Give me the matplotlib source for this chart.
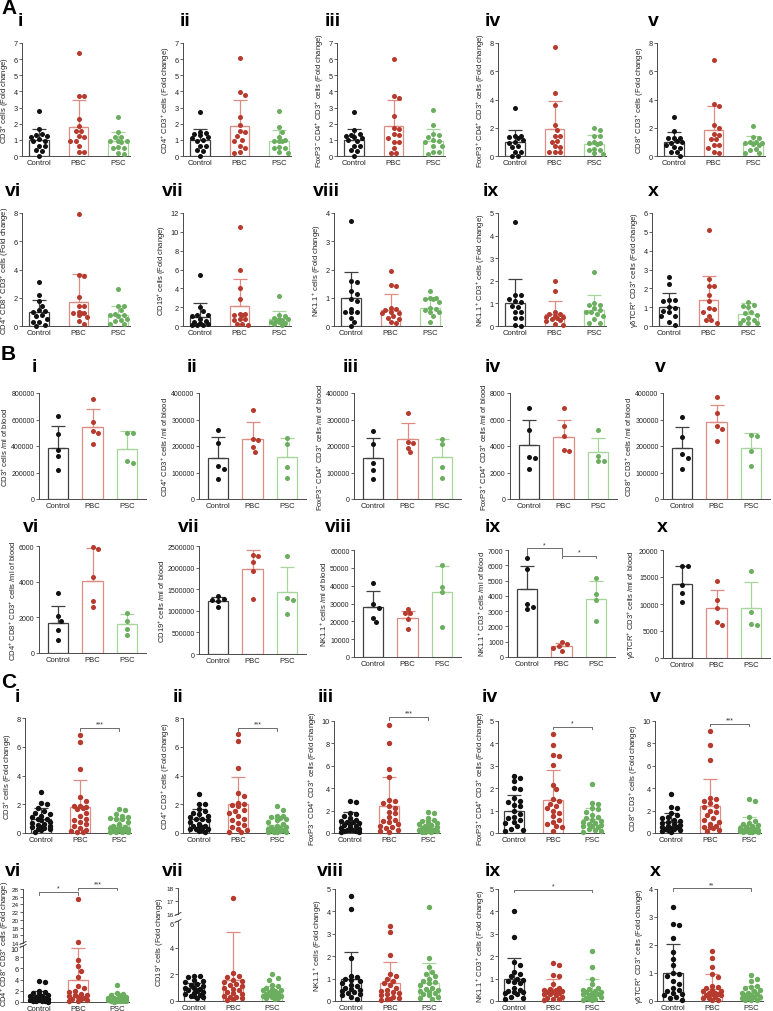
import numpy as np
import matplotlib
matplotlib.use("Agg")
import matplotlib.pyplot as plt
from matplotlib.lines import Line2D

plt.rcParams['font.family'] = ['Liberation Sans', 'DejaVu Sans']
plt.rcParams['mathtext.fontset'] = 'custom'
plt.rcParams['mathtext.rm'] = 'Liberation Sans'
plt.rcParams['mathtext.it'] = 'Liberation Sans:italic'
plt.rcParams['mathtext.bf'] = 'Liberation Sans:bold'

W, H = 773, 1012
groups = ["Control", "PBC", "PSC"]
dot_colors = ["#111111", "#b63a2d", "#6cae5f"]
bar_colors = ["#404040", "#de8c82", "#a8d59c"]
numerals = ["i", "ii", "iii", "iv", "v", "vi", "vii", "viii", "ix", "x"]

markers = ["CD3$^{+}$", "CD4$^{+}$ CD3$^{+}$", "FoxP3$^{-}$ CD4$^{+}$ CD3$^{+}$",
           "FoxP3$^{+}$ CD4$^{+}$ CD3$^{+}$", "CD8$^{+}$ CD3$^{+}$",
           "CD4$^{+}$ CD8$^{+}$ CD3$^{+}$", "CD19$^{+}$", "NK1.1$^{+}$",
           "NK1.1$^{+}$ CD3$^{+}$", "γδTCR$^{+}$ CD3$^{+}$"]

# ---------------- A: fold change (cohort 1) ----------------
A1 = [[2.8, 1.65, 1.35, 1.3, 1.25, 1.15, 1.05, 0.95, 0.9, 0.65, 0.6, 0.35, 0.3, 0.0],
      [6.4, 3.7, 3.7, 2.3, 1.85, 1.55, 1.55, 1.25, 1.2, 0.95, 0.95, 0.6, 0.25, 0.25],
      [2.4, 1.5, 1.2, 1.15, 0.95, 0.9, 0.9, 0.85, 0.55, 0.5, 0.5, 0.2, 0.15]]
A1_bar, A1_top = [1.0, 1.82, 0.9], [1.7, 3.5, 1.5]
A2 = [[2.75, 1.5, 1.4, 1.35, 1.3, 1.15, 1.1, 1.0, 0.95, 0.65, 0.6, 0.35, 0.3, 0.0],
      [6.1, 3.95, 3.75, 2.4, 1.9, 1.55, 1.5, 1.25, 1.0, 0.95, 0.6, 0.5, 0.25, 0.2],
      [2.8, 1.8, 1.5, 1.2, 1.0, 0.95, 0.9, 0.9, 0.55, 0.5, 0.5, 0.25, 0.2]]
A2_bar, A2_top = [1.0, 1.87, 0.93], [1.7, 3.5, 1.62]
A3 = [[2.7, 1.6, 1.35, 1.3, 1.25, 1.2, 1.1, 1.0, 0.95, 0.65, 0.6, 0.35, 0.3, 0.0],
      [6.0, 3.7, 3.6, 2.45, 1.75, 1.7, 1.35, 1.3, 1.1, 0.85, 0.85, 0.5, 0.2, 0.2],
      [2.85, 1.95, 1.35, 1.3, 1.15, 1.0, 0.9, 0.85, 0.6, 0.6, 0.25, 0.25, 0.1]]
A3_bar, A3_top = [1.0, 1.85, 0.9], [1.68, 3.45, 1.65]
A4 = [[3.4, 1.4, 1.4, 1.35, 1.3, 1.1, 1.0, 0.95, 0.7, 0.65, 0.3, 0.3, 0.0, 0.0],
      [7.7, 4.45, 3.6, 2.2, 1.85, 1.4, 1.4, 1.05, 1.0, 0.7, 0.65, 0.3, 0.3, 0.25],
      [1.95, 1.85, 1.45, 1.4, 1.0, 0.95, 0.9, 0.85, 0.5, 0.45, 0.4, 0.2, 0.15]]
A4_bar, A4_top = [1.0, 1.88, 0.87], [1.85, 3.9, 1.5]
A5 = [[2.75, 1.8, 1.3, 1.3, 1.25, 1.05, 1.0, 0.95, 0.8, 0.65, 0.6, 0.3, 0.25, 0.0],
      [6.8, 3.65, 3.55, 2.2, 2.0, 1.55, 1.5, 1.2, 1.2, 0.8, 0.8, 0.55, 0.25, 0.2],
      [2.1, 1.35, 1.3, 1.0, 1.0, 0.95, 0.9, 0.85, 0.8, 0.5, 0.45, 0.2, 0.2]]
A5_bar, A5_top = [1.0, 1.85, 0.95], [1.68, 3.55, 1.4]
A6 = [[3.1, 2.2, 1.75, 1.4, 1.1, 1.05, 1.0, 0.75, 0.7, 0.5, 0.3, 0.3, 0.05, 0.0],
      [7.95, 3.6, 3.55, 2.05, 1.45, 1.4, 1.0, 0.95, 0.95, 0.9, 0.75, 0.65, 0.35, 0.17],
      [2.65, 1.45, 1.4, 1.1, 0.85, 0.8, 0.75, 0.7, 0.5, 0.4, 0.35, 0.15, 0.15]]
A6_bar, A6_top = [1.0, 1.72, 0.75], [1.85, 3.7, 1.42]
A7 = [[5.45, 2.0, 1.55, 1.2, 1.15, 1.1, 0.7, 0.5, 0.4, 0.35, 0.2, 0.15, 0.15, 0.1],
      [10.55, 6.0, 4.05, 2.9, 1.3, 1.25, 1.2, 1.15, 0.7, 0.7, 0.65, 0.2, 0.2, 0.15],
      [3.2, 1.2, 1.1, 0.8, 0.75, 0.7, 0.6, 0.5, 0.45, 0.4, 0.3, 0.2, 0.15]]
A7_bar, A7_top = [1.0, 2.1, 0.77], [2.4, 4.95, 1.57]
A8 = [[3.7, 1.6, 1.55, 1.25, 1.15, 0.95, 0.9, 0.6, 0.5, 0.5, 0.5, 0.3, 0.15, 0.0],
      [1.95, 1.45, 1.4, 0.65, 0.6, 0.55, 0.5, 0.45, 0.45, 0.35, 0.3, 0.25, 0.15, 0.1],
      [1.25, 1.0, 1.0, 0.95, 0.95, 0.85, 0.65, 0.6, 0.55, 0.5, 0.5, 0.35, 0.15]]
A8_bar, A8_top = [1.0, 0.58, 0.65], [1.9, 1.13, 0.98]
A9 = [[4.6, 1.35, 1.35, 1.2, 1.1, 1.05, 0.9, 0.85, 0.6, 0.6, 0.35, 0.35, 0.05, 0.0],
      [1.98, 1.55, 0.6, 0.55, 0.55, 0.45, 0.4, 0.4, 0.35, 0.3, 0.25, 0.2, 0.1, 0.05],
      [2.4, 1.0, 0.95, 0.95, 0.8, 0.7, 0.6, 0.6, 0.55, 0.45, 0.3, 0.12, 0.12]]
A9_bar, A9_top = [1.0, 0.52, 0.73], [2.1, 1.12, 1.35]
A10 = [[2.6, 2.25, 1.4, 1.4, 1.35, 1.0, 0.95, 0.8, 0.75, 0.55, 0.55, 0.2, 0.05],
       [5.1, 2.5, 2.15, 2.1, 1.65, 1.35, 0.95, 0.9, 0.75, 0.55, 0.3, 0.3, 0.15],
       [1.25, 1.1, 1.05, 1.0, 0.75, 0.7, 0.6, 0.45, 0.3, 0.3, 0.15, 0.15, 0.15]]
A10_bar, A10_top = [1.0, 1.38, 0.62], [1.75, 2.63, 1.2]

# ---------------- B: cells / ml of blood ----------------
B1 = [[623000, 487000, 371000, 328000, 220000],
      [752000, 581000, 510000, 497000, 417000],
      [500000, 495000, 290000, 275000]]
B1_bar, B1_top = [385000, 543000, 380000], [550000, 677000, 510000]
B2 = [[262000, 212000, 125000, 112000, 75000],
      [334000, 225000, 221000, 196000, 179000],
      [230000, 206000, 121000, 79000]]
B2_bar, B2_top = [156000, 227000, 159000], [234000, 290000, 231000]
B3 = [[256000, 207000, 136000, 111000, 74000],
      [326000, 214000, 212000, 194000, 177000],
      [228000, 207000, 120000, 80000]]
B3_bar, B3_top = [155000, 227000, 158000], [229000, 285000, 227000]
B4 = [[6850, 5200, 3150, 3100, 2300],
      [6850, 5500, 4780, 3700, 3650],
      [5200, 3250, 2850, 2850]]
B4_bar, B4_top = [4080, 4650, 3540], [5940, 5940, 4630]
B5 = [[310000, 235000, 170000, 155000, 115000],
      [384000, 324000, 276000, 266000, 217000],
      [241000, 239000, 183000, 126000]]
B5_bar, B5_top = [194000, 291000, 194000], [272000, 355000, 250000]
B6 = [[3350, 2050, 1790, 1270, 745],
      [5950, 5850, 4250, 2900, 2600],
      [2230, 1820, 1360, 990]]
B6_bar, B6_top = [1680, 4060, 1600], [2660, 5900, 2160]
B7 = [[1350000, 1270000, 1260000, 1230000, 1080000],
      [2300000, 2280000, 2130000, 1930000, 1280000],
      [2280000, 1300000, 1240000, 930000]]
B7_bar, B7_top = [1235000, 1968000, 1427000], [1327000, 2400000, 2006000]
B8 = [[41500, 29800, 27500, 22000, 19600],
      [27000, 24600, 24400, 21400, 15800],
      [51800, 39500, 36300, 17100]]
B8_bar, B8_top = [28300, 22000, 36300], [36900, 25700, 50800]
B9 = [[6500, 5750, 3500, 3300, 3150],
      [1000, 830, 720, 610, 420],
      [5170, 4090, 3700, 2350]]
B9_bar, B9_top = [4460, 700, 3800], [5980, 910, 5000]
B10 = [[17100, 17000, 13600, 12000, 10300],
       [14300, 10750, 9200, 6600, 6170],
       [16200, 8450, 6300, 6150]]
B10_bar, B10_top = [13700, 9200, 9260], [17100, 12590, 14010]

# ---------------- C: fold change (cohort 2) ----------------
C1 = [[2.85, 2.1, 2.0, 1.75, 1.5, 1.4, 1.3, 1.2, 1.1, 1.0, 0.95, 0.9, 0.8, 0.7, 0.6, 0.55, 0.5, 0.45, 0.4, 0.35, 0.3, 0.25, 0.2, 0.1],
      [6.8, 6.3, 4.45, 2.5, 2.2, 1.9, 1.85, 1.8, 1.75, 1.7, 1.4, 1.2, 1.0, 0.9, 0.75, 0.6, 0.5, 0.35, 0.2, 0.15, 0.1, 0.05],
      [1.7, 1.6, 1.35, 1.2, 1.1, 1.05, 1.0, 0.95, 0.8, 0.6, 0.5, 0.45, 0.4, 0.35, 0.3, 0.3, 0.25, 0.2, 0.2, 0.15, 0.1, 0.1, 0.05, 0.05]]
C1_bar, C1_top = [0.97, 1.82, 0.58], [1.72, 3.71, 1.07]
C2 = [[2.7, 2.05, 2.0, 1.65, 1.55, 1.4, 1.3, 1.2, 1.1, 1.0, 0.95, 0.9, 0.8, 0.6, 0.5, 0.5, 0.45, 0.4, 0.3, 0.3, 0.25, 0.2, 0.15, 0.1],
      [6.9, 6.4, 4.55, 2.8, 2.6, 2.1, 2.0, 1.95, 1.9, 1.6, 1.55, 1.4, 1.2, 1.0, 0.9, 0.7, 0.55, 0.45, 0.3, 0.2, 0.1, 0.05],
      [1.85, 1.6, 1.2, 1.15, 1.1, 1.05, 1.0, 0.9, 0.75, 0.6, 0.5, 0.45, 0.4, 0.35, 0.3, 0.3, 0.25, 0.2, 0.2, 0.15, 0.1, 0.1, 0.05, 0.05]]
C2_bar, C2_top = [0.96, 2.0, 0.56], [1.65, 3.87, 1.07]
C3 = [[2.9, 2.75, 1.8, 1.7, 1.5, 1.3, 1.2, 1.1, 1.0, 0.95, 0.9, 0.8, 0.7, 0.6, 0.5, 0.45, 0.4, 0.3, 0.3, 0.25, 0.2, 0.15, 0.1, 0.1],
      [9.65, 8.05, 5.7, 5.0, 2.95, 2.85, 2.7, 2.45, 2.25, 1.9, 1.75, 1.4, 1.1, 0.95, 0.65, 0.45, 0.2, 0.1, 0.3, 0.5, 0.8, 1.2],
      [1.9, 1.75, 1.35, 1.2, 1.1, 1.0, 0.9, 0.8, 0.7, 0.6, 0.55, 0.5, 0.45, 0.4, 0.35, 0.3, 0.25, 0.2, 0.15, 0.1, 0.1, 0.05]]
C3_bar, C3_top = [0.95, 2.41, 0.63], [1.9, 5.0, 1.19]
C4 = [[2.55, 2.45, 2.3, 2.0, 1.95, 1.55, 1.45, 1.4, 1.25, 1.2, 1.0, 0.85, 0.7, 0.65, 0.6, 0.5, 0.45, 0.3, 0.2, 0.15, 0.1],
      [4.4, 3.95, 3.5, 3.45, 3.05, 2.15, 1.95, 1.5, 1.45, 1.3, 1.2, 1.1, 1.0, 0.9, 0.75, 0.6, 0.5, 0.4, 0.3, 0.25, 0.1],
      [2.2, 1.35, 1.3, 1.1, 1.05, 0.95, 0.8, 0.7, 0.65, 0.6, 0.55, 0.5, 0.45, 0.4, 0.35, 0.3, 0.3, 0.25, 0.2, 0.15, 0.1, 0.05]]
C4_bar, C4_top = [0.98, 1.46, 0.61], [1.68, 2.81, 1.13]
C5 = [[3.45, 2.3, 2.2, 1.8, 1.6, 1.4, 1.3, 1.2, 1.1, 1.0, 0.9, 0.8, 0.7, 0.6, 0.55, 0.5, 0.45, 0.4, 0.35, 0.3, 0.25, 0.2, 0.1],
      [9.15, 7.85, 6.5, 3.15, 3.0, 2.9, 2.65, 2.4, 2.3, 2.0, 1.85, 1.6, 1.3, 1.2, 1.0, 0.8, 0.6, 0.55, 0.5, 0.45, 0.3, 0.2],
      [3.0, 2.9, 1.4, 1.1, 0.9, 0.8, 0.7, 0.6, 0.5, 0.45, 0.4, 0.35, 0.3, 0.3, 0.25, 0.2, 0.2, 0.15, 0.1, 0.1, 0.05, 0.05]]
C5_bar, C5_top = [1.01, 2.38, 0.71], [1.82, 4.85, 1.43]
C6 = [[3.7, 3.6, 2.0, 1.8, 1.6, 1.4, 1.2, 1.1, 1.0, 0.9, 0.8, 0.7, 0.6, 0.5, 0.45, 0.4, 0.3, 0.3, 0.2, 0.2, 0.1, 0.1, 0.05],
      [25.4, 14.3, 7.5, 6.4, 5.5, 4.4, 2.9, 2.5, 2.0, 1.8, 1.5, 1.3, 1.2, 1.0, 0.9, 0.8, 0.6, 0.5, 0.3, 0.2, 0.1],
      [3.1, 1.6, 1.5, 1.2, 1.0, 0.9, 0.8, 0.7, 0.6, 0.55, 0.5, 0.45, 0.4, 0.35, 0.3, 0.3, 0.25, 0.2, 0.15, 0.1, 0.1, 0.05]]
C6_bar, C6_top = [1.0, 3.85, 0.6], [2.0, 9.6, 1.55]
C7 = [[1.9, 1.85, 1.8, 1.6, 1.5, 1.4, 1.3, 1.2, 1.1, 1.0, 0.95, 0.9, 0.8, 0.75, 0.7, 0.6, 0.5, 0.45, 0.4, 0.35, 0.3, 0.25],
      [17.25, 2.1, 1.85, 1.8, 1.6, 1.5, 1.4, 1.3, 1.2, 1.1, 1.0, 0.9, 0.8, 0.7, 0.6, 0.5, 0.4, 0.3, 0.3, 0.2, 0.15, 0.1],
      [2.0, 1.7, 1.6, 1.2, 1.1, 1.0, 0.9, 0.85, 0.8, 0.75, 0.7, 0.65, 0.6, 0.55, 0.5, 0.45, 0.4, 0.35, 0.3, 0.25, 0.2, 0.15]]
C7_bar, C7_top = [0.95, 1.6, 0.7], [1.35, 5.15, 1.13]
C8 = [[4.7, 4.1, 1.9, 1.1, 1.05, 1.0, 0.95, 0.9, 0.8, 0.7, 0.65, 0.6, 0.55, 0.5, 0.45, 0.4, 0.35, 0.3, 0.25, 0.2, 0.1],
      [3.35, 3.1, 2.05, 1.2, 1.1, 1.0, 0.9, 0.8, 0.7, 0.6, 0.5, 0.45, 0.4, 0.35, 0.3, 0.25, 0.2, 0.15, 0.1, 0.1, 0.05],
      [4.2, 1.9, 1.5, 1.3, 1.2, 1.1, 1.0, 0.9, 0.85, 0.8, 0.7, 0.6, 0.55, 0.5, 0.45, 0.4, 0.35, 0.3, 0.25, 0.2, 0.15, 0.1]]
C8_bar, C8_top = [1.0, 0.79, 0.79], [2.19, 1.75, 1.69]
C9 = [[4.0, 2.85, 1.75, 1.6, 1.3, 1.2, 1.1, 1.0, 0.95, 0.9, 0.85, 0.8, 0.6, 0.5, 0.45, 0.4, 0.4, 0.35, 0.3, 0.2, 0.15, 0.1],
      [1.7, 1.6, 1.15, 1.1, 0.75, 0.6, 0.55, 0.5, 0.5, 0.45, 0.4, 0.4, 0.35, 0.3, 0.3, 0.25, 0.2, 0.15, 0.1, 0.1, 0.05],
      [2.25, 1.5, 1.0, 0.75, 0.6, 0.55, 0.5, 0.45, 0.4, 0.4, 0.35, 0.3, 0.3, 0.3, 0.25, 0.2, 0.2, 0.15, 0.1, 0.1, 0.05, 0.05]]
C9_bar, C9_top = [0.98, 0.48, 0.48], [1.94, 1.0, 1.0]
C10 = [[3.35, 2.75, 2.7, 2.25, 1.75, 1.5, 1.3, 1.0, 0.95, 0.9, 0.7, 0.6, 0.45, 0.4, 0.35, 0.3, 0.25, 0.2, 0.15, 0.1, 0.05],
       [1.8, 1.55, 1.2, 0.95, 0.85, 0.55, 0.5, 0.45, 0.4, 0.35, 0.35, 0.3, 0.3, 0.25, 0.25, 0.2, 0.2, 0.15, 0.1, 0.1, 0.05, 0.05],
       [0.92, 0.8, 0.7, 0.55, 0.5, 0.45, 0.4, 0.35, 0.3, 0.3, 0.25, 0.2, 0.2, 0.15, 0.15, 0.1, 0.1, 0.05, 0.05, 0.02]]
C10_bar, C10_top = [1.0, 0.44, 0.26], [2.02, 0.97, 0.53]

# axis ranges: (max, step); None marks a broken axis
A_ticks = [(7, 1), (7, 1), (7, 1), (8, 2), (8, 2), (8, 2), (12, 2), (4, 1), (5, 1), (6, 1)]
B_ticks = [(800000, 200000), (400000, 100000), (400000, 100000), (8000, 2000), (400000, 100000),
           (6000, 2000), (2500000, 500000), (60000, 10000), (7000, 1000), (20000, 5000)]
C_ticks = [(8, 2), (8, 2), (10, 2), (5, 1), (10, 2), None, None, (5, 1), (5, 1), (4, 1)]
C_breaks = {5: ((0, 10, 2), (14, 28, 2)), 6: ((0, 6, 2), (16, 18, 1))}

# significance: (x1, x2, y, y_end, label)
sig = {
    ('B', 8): [(0, 1, 7100, 6700, '*'), (1, 2, 6630, 6480, '*')],
    ('C', 0): [(1, 2, 7.3, 7.08, '***')],
    ('C', 1): [(1, 2, 7.3, 7.08, '***')],
    ('C', 2): [(1, 2, 10.36, 10.06, '***')],
    ('C', 3): [(1, 2, 4.75, 4.63, '*')],
    ('C', 4): [(1, 2, 9.76, 9.55, '***')],
    ('C', 5): [(0, 1, 27.3, 26.4, '*'), (1, 2, 28.35, 27.75, '***')],
    ('C', 8): [(0, 2, 4.95, 4.85, '*')],
    ('C', 9): [(0, 2, 4.02, 3.93, '**')],
}

sections = {
    'A': ([A1, A2, A3, A4, A5, A6, A7, A8, A9, A10],
          [A1_bar, A2_bar, A3_bar, A4_bar, A5_bar, A6_bar, A7_bar, A8_bar, A9_bar, A10_bar],
          [A1_top, A2_top, A3_top, A4_top, A5_top, A6_top, A7_top, A8_top, A9_top, A10_top],
          A_ticks, "cells (Fold change)"),
    'B': ([B1, B2, B3, B4, B5, B6, B7, B8, B9, B10],
          [B1_bar, B2_bar, B3_bar, B4_bar, B5_bar, B6_bar, B7_bar, B8_bar, B9_bar, B10_bar],
          [B1_top, B2_top, B3_top, B4_top, B5_top, B6_top, B7_top, B8_top, B9_top, B10_top],
          B_ticks, "cells /ml of blood"),
    'C': ([C1, C2, C3, C4, C5, C6, C7, C8, C9, C10],
          [C1_bar, C2_bar, C3_bar, C4_bar, C5_bar, C6_bar, C7_bar, C8_bar, C9_bar, C10_bar],
          [C1_top, C2_top, C3_top, C4_top, C5_top, C6_top, C7_top, C8_top, C9_top, C10_top],
          C_ticks, "cells (Fold change)"),
}

# layout in pixels
layout = {
    'A': dict(rows=[dict(tops=[44] * 5, bots=[157] * 5, lefts=[22, 183, 337, 498, 657],
                         labx=[18, 180, 325, 485, 648], laby=22),
                    dict(tops=[214] * 5, bots=[327] * 5, lefts=[22, 183, 334, 498, 652],
                         labx=[5, 162, 313, 483, 648], laby=192)],
              width=108, xlim=(-0.43, 2.3), bw=0.5, ms=13, letter_y=8, pad=1.5),
    'B': dict(rows=[dict(tops=[394] * 5, bots=[500] * 5, lefts=[39, 199, 354, 510, 663],
                         labx=[32, 187, 343, 485, 655], laby=368),
                    dict(tops=[547, 547, 551, 551, 551], bots=[654, 655, 658, 658, 659],
                         lefts=[39, 199, 354, 508, 663],
                         labx=[23, 178, 325, 485, 657], laby=527)],
              width=107, xlim=(-0.55, 2.55), bw=0.58, ms=13, letter_y=355, pad=0.5),
    'C': dict(rows=[dict(tops=[719, 719, 722, 722, 722], bots=[834] * 5,
                         lefts=[25, 183, 334, 498, 655],
                         labx=[15, 173, 318, 482, 650], laby=698),
                    dict(tops=[890] * 5, bots=[1002] * 5, lefts=[23, 178, 335, 498, 657],
                         labx=[5, 162, 317, 485, 650], laby=872)],
              width=106, xlim=(-0.4, 2.3), bw=0.5, ms=15, letter_y=683, pad=1.5),
}
break_px = {5: ((890, 944), (947, 1003)), 6: ((889, 915), (922, 1002))}

fig = plt.figure(figsize=(W / 100, H / 100), dpi=100)
AX_COL = '#4a4a4a'


def px_axes(left, top, width, bottom):
    return fig.add_axes([left / W, 1 - bottom / H, width / W, (bottom - top) / H])


def style(ax, xlim, lo, hi, step, bottom=True, labsize=5.3):
    for s in ('top', 'right'):
        ax.spines[s].set_visible(False)
    for s in ('left', 'bottom'):
        ax.spines[s].set_color(AX_COL)
        ax.spines[s].set_linewidth(0.7)
    ax.spines['bottom'].set_visible(bottom)
    ax.set_xlim(*xlim)
    ax.set_ylim(lo, hi)
    ticks = np.arange(lo, hi + step * 0.5, step)
    ax.set_yticks(ticks)
    ax.set_yticklabels([f"{int(round(t))}" for t in ticks])
    ax.tick_params(axis='y', length=2.2, width=0.6, pad=1, labelsize=labsize,
                   color=AX_COL, labelcolor='#222222')
    if bottom:
        ax.set_xticks(range(3))
        ax.set_xticklabels(groups)
        ax.tick_params(axis='x', length=0, pad=2, labelsize=5.5, labelcolor='#222222')
    else:
        ax.set_xticks([])
    ax.patch.set_alpha(0)


def swarm(ax, xc, vals, d, maxw):
    # place points side by side (GraphPad-like scatter), kept within +-maxw px
    tr = ax.transData
    vals = np.asarray(vals, float)
    ys = tr.transform(np.column_stack([np.full(len(vals), float(xc)), vals]))[:, 1]
    ppx = tr.transform((xc + 1, 0))[0] - tr.transform((xc, 0))[0]
    step = d * 0.5
    nmax = int(maxw // step)
    cands = [0.0] + [s * k * step for k in range(1, nmax + 1) for s in (1, -1)]
    placed, offs = [], np.zeros(len(vals))
    for i in np.argsort(-vals):
        best, best_gap = 0.0, -1.0
        for dx in cands:
            gap = min([np.hypot(dx - px, ys[i] - py) for px, py in placed] or [1e9])
            if gap >= 0.9 * d:
                best = dx
                break
            if gap > best_gap + 0.5:
                best, best_gap = dx, gap
        placed.append((best, ys[i]))
        offs[i] = best
    return xc + offs / ppx


def draw_bars(ax, bar, top, bw):
    for g in range(3):
        ax.bar(g, bar[g], bw, color='white', edgecolor=bar_colors[g], lw=0.9, zorder=1)
        ax.errorbar(g, bar[g], yerr=[[0], [top[g] - bar[g]]], fmt='none', ecolor=bar_colors[g],
                    elinewidth=0.9, capsize=4.8, capthick=0.9, zorder=2)


def draw_points(ax, vals, g, ms, maxw):
    if len(vals) == 0:
        return
    d = np.sqrt(ms) * 1.389 + 0.6
    xs = swarm(ax, g, vals, d, maxw)
    ax.scatter(xs, vals, s=ms, color=dot_colors[g], lw=0, zorder=3, clip_on=False)


def draw_sig(ax, items):
    for x1, x2, y, ye, lab in items:
        ax.plot([x1, x1, x2, x2], [ye, y, y, ye], color='#555555', lw=0.6, clip_on=False, zorder=4)
        ax.annotate(lab, ((x1 + x2) / 2, y), xytext=(0, 0.3), textcoords='offset points',
                    ha='center', va='bottom', fontsize=5, color='#333333', annotation_clip=False)


def break_mark(x, y):
    fig.add_artist(Line2D([(x - 3) / W, (x + 3) / W], [1 - (y + 1.5) / H, 1 - (y - 1.5) / H],
                          transform=fig.transFigure, color=AX_COL, lw=0.7))


for sec, (pts, bars, tops, ticks, unit) in sections.items():
    lay = layout[sec]
    fig.text(1 / W, 1 - lay['letter_y'] / H, sec, fontsize=15, fontweight='bold', va='center', ha='left')
    maxw = lay['bw'] * 0.5 * (lay['width'] / (lay['xlim'][1] - lay['xlim'][0])) + 1
    labsize = 5.0 if sec == 'B' else 5.3
    for p in range(10):
        row = lay['rows'][p // 5]
        c = p % 5
        left, top_px, bot_px = row['lefts'][c], row['tops'][c], row['bots'][c]
        fig.text(row['labx'][c] / W, 1 - row['laby'] / H, numerals[p], fontsize=14,
                 fontweight='bold', va='center', ha='left')
        ylabel = f"{markers[p]} {unit}"
        if ticks[p] is None:
            (l0, l1, ls), (u0, u1, us) = C_breaks[p]
            (ut, ub), (lt, lb) = break_px[p]
            axu = px_axes(left, ut, lay['width'], ub)
            axl = px_axes(left, lt, lay['width'], lb)
            style(axu, lay['xlim'], u0, u1, us, bottom=False, labsize=4.6)
            style(axl, lay['xlim'], l0, l1, ls)
            # keep the labels at the break apart
            axl.get_yticklabels()[-1].set_va('top')
            draw_bars(axl, bars[p], tops[p], lay['bw'])
            for g in range(3):
                v = np.asarray(pts[p][g], float)
                draw_points(axl, v[v <= l1], g, lay['ms'], maxw)
                draw_points(axu, v[v > l1], g, lay['ms'], maxw)
            break_mark(left, ub)
            break_mark(left, lt)
            if (sec, p) in sig:
                draw_sig(axu, sig[(sec, p)])
            mid = (ut + lb) / 2 - 3
            axl.set_ylabel(ylabel, fontsize=5.4, color='#222222')
            axl.yaxis.set_label_coords(-12 / lay['width'], (lb - mid) / (lb - lt))
        else:
            ax = px_axes(left, top_px, lay['width'], bot_px)
            style(ax, lay['xlim'], 0, ticks[p][0], ticks[p][1], labsize=labsize)
            draw_bars(ax, bars[p], tops[p], lay['bw'])
            for g in range(3):
                draw_points(ax, pts[p][g], g, lay['ms'], maxw)
            if (sec, p) in sig:
                draw_sig(ax, sig[(sec, p)])
            ax.set_ylabel(ylabel, fontsize=5.5, color='#222222', labelpad=lay['pad'])

fig.savefig("out.png", dpi=100)
